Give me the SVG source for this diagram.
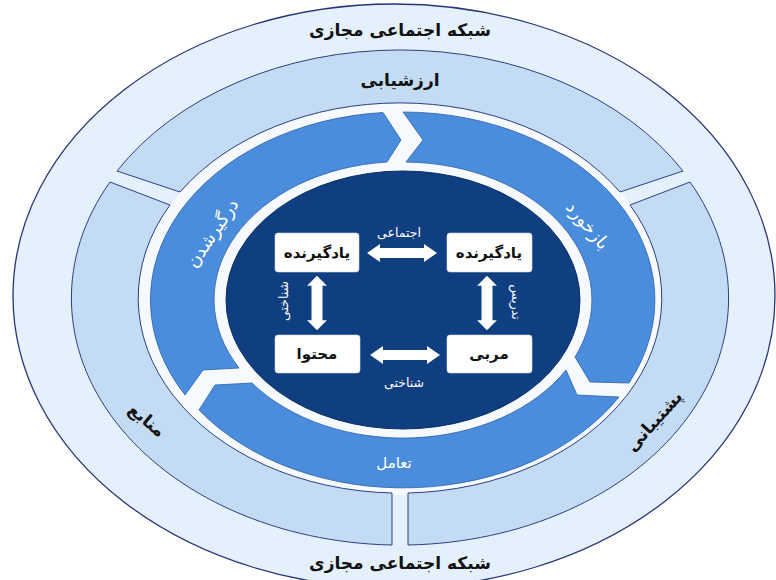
<svg xmlns="http://www.w3.org/2000/svg" width="776" height="580" viewBox="0 0 776 580">
<style>
.outer{fill:#e4f0fb;stroke:#27357a;stroke-width:1.3}
.r2{fill:#c4dbf4;stroke:#2b3f86;stroke-width:1}
.r3{fill:#4a8ddc;stroke:#2d5fa8;stroke-width:0.8}
.box{fill:#ffffff;stroke:#d0dcea;stroke-width:0.6}
.arr{fill:#ffffff}
.t{font-family:"DejaVu Sans",sans-serif;text-anchor:middle;dominant-baseline:central}
.big{font-size:17px;font-weight:bold;fill:#111}
.ring{font-size:18px;fill:#ffffff}
.ring2{font-size:17px;font-weight:bold;fill:#111}
.lbl{font-size:12.5px;fill:#ffffff}
.boxt{font-size:15px;font-weight:bold;fill:#111}
</style>
<defs>
<path id="dbl" d="M-35,0 L-22,-9 L-22,-5 L22,-5 L22,-9 L35,0 L22,9 L22,5 L-22,5 L-22,9 Z"/>
</defs>
<rect width="776" height="580" fill="#ffffff"/>
<g id="outer-ring">
<ellipse class="outer" cx="394" cy="296" rx="381" ry="292"/>
<ellipse cx="401" cy="299" rx="263" ry="196" fill="#f6fafe"/>
<text class="t big" x="400" y="30">شبکه اجتماعی مجازی</text>
<text class="t big" x="400" y="563">شبکه اجتماعی مجازی</text>
</g>
<g id="arzeshyabi">
<path class="r2" d="M117,171 A329 247 0 0 1 683,171 L620,192 A262 195 0 0 0 180,192 Z"/>
<text class="t big" x="400" y="80">ارزشیابی</text>
</g>
<g id="manabe">
<path class="r2" d="M110,182 L170,205 A262 195 0 0 0 392,493 L392,545 A329 247 0 0 1 110,182 Z"/>
<text class="t ring2" transform="translate(147,420) rotate(40)">منابع</text>
</g>
<g id="poshtibani">
<path class="r2" d="M690,182 A329 247 0 0 1 408,545 L408,493 A262 195 0 0 0 630,205 Z"/>
<text class="t ring2" transform="translate(654,421) rotate(-48)">پشتیبانی</text>
</g>
<g id="dargirshodan">
<path class="r3" d="M185,395 A252 188 0 0 1 383,112.5 L401,140 L387,162 A189 138 0 0 0 239,368 L203,370 Z"/>
<text class="t ring" transform="translate(212,233) rotate(-56)">درگیرشدن</text>
</g>
<g id="bazkhord">
<path class="r3" d="M403,112 A252 188 0 0 1 629,383 L590,382 L575,357 A189 138 0 0 0 406,162 L423,140 Z"/>
<text class="t ring" transform="translate(588,225) rotate(50)">بازخورد</text>
</g>
<g id="taamol">
<path class="r3" d="M619,397 A252 188 0 0 1 199,410 L215,385 L252,383 A189 138 0 0 0 566,370 L577,395 Z"/>
<text class="t ring" style="font-size:15px" x="394" y="463">تعامل</text>
</g>
<g id="core">
<ellipse cx="403" cy="300" rx="177" ry="129" fill="#0f3e81" stroke="#0a2d63" stroke-width="1"/>
</g>
<g id="learner1">
<rect class="box" x="275" y="233" width="84" height="39" rx="3"/>
<text class="t boxt" x="317" y="253">یادگیرنده</text>
</g>
<g id="learner2">
<rect class="box" x="447" y="233" width="85" height="39" rx="3"/>
<text class="t boxt" x="489" y="253">یادگیرنده</text>
</g>
<g id="content">
<rect class="box" x="275" y="335" width="85" height="38" rx="3"/>
<text class="t boxt" x="317" y="354">محتوا</text>
</g>
<g id="coach">
<rect class="box" x="447" y="335" width="85" height="38" rx="3"/>
<text class="t boxt" x="489" y="354">مربی</text>
</g>
<g id="connectors">
<use href="#dbl" class="arr" transform="translate(402,253)"/>
<use href="#dbl" class="arr" transform="translate(405,355)"/>
<use href="#dbl" class="arr" transform="translate(317,303) rotate(90) scale(0.78,1.1)"/>
<use href="#dbl" class="arr" transform="translate(487,303) rotate(90) scale(0.78,1.1)"/>
<text class="t lbl" x="399" y="232">اجتماعی</text>
<text class="t lbl" x="404" y="382">شناختی</text>
<text class="t lbl" transform="translate(283,301) rotate(-90)">شناختی</text>
<text class="t lbl" transform="translate(516,302) rotate(90)">تدریس</text>
</g>
</svg>
